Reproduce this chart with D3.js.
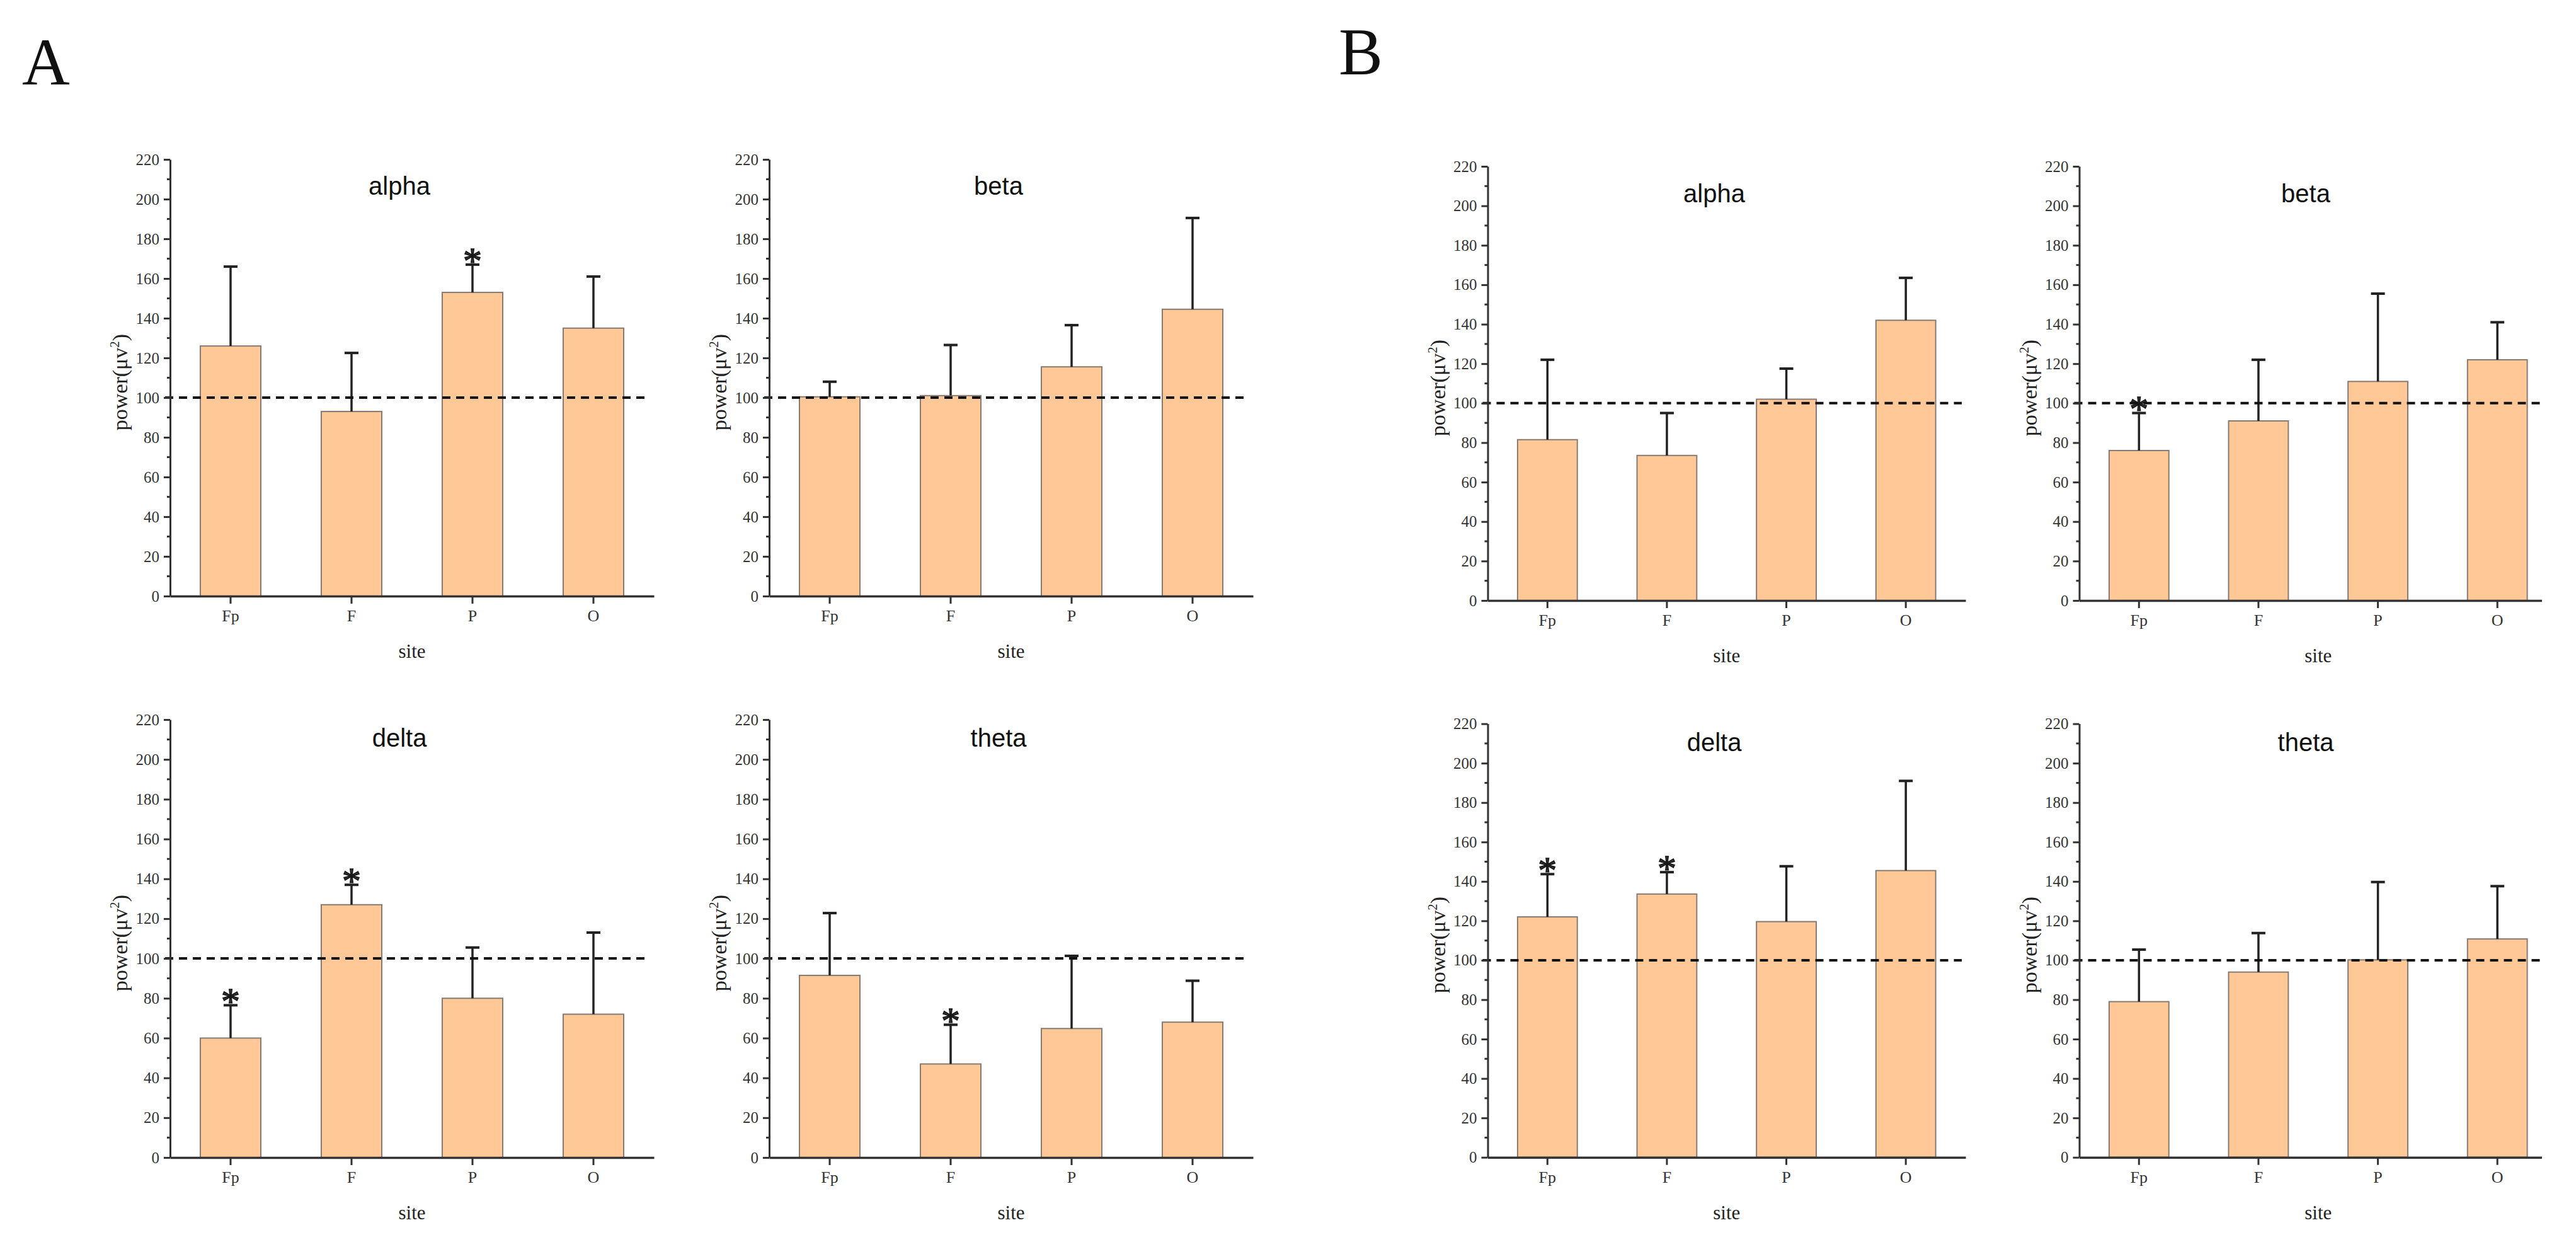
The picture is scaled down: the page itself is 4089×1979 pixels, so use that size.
<!DOCTYPE html>
<html>
<head>
<meta charset="utf-8">
<script src="https://cdn.jsdelivr.net/npm/d3@7"></script>
<style>
  body { margin: 0; background: #fff; }
  svg { display: block; }
</style>
</head>
<body>
<svg width="4089" height="1979"></svg>
<script>
const sites = ["Fp", "F", "P", "O"];
const yTicks = [0, 20, 40, 60, 80, 100, 120, 140, 160, 180, 200, 220];
const yMinorTicks = [10, 30, 50, 70, 90, 110, 130, 150, 170, 190, 210];
const refLevel = 100;

// group A
const aAlphaMean = [126, 93, 153, 135];
const aAlphaSd   = [40, 29.5, 14, 26];
const aAlphaSig  = [0, 0, 1, 0];
const aBetaMean  = [100.4, 101, 115.5, 144.5];
const aBetaSd    = [7.6, 25.5, 21, 46];
const aBetaSig   = [0, 0, 0, 0];
const aDeltaMean = [60, 127, 80, 72];
const aDeltaSd   = [16.5, 10, 25.5, 41];
const aDeltaSig  = [1, 1, 0, 0];
const aThetaMean = [91.5, 47, 64.8, 68];
const aThetaSd   = [31.3, 19.7, 36.5, 20.8];
const aThetaSig  = [0, 1, 0, 0];

// group B
const bAlphaMean = [81.5, 73.5, 102, 142];
const bAlphaSd   = [40.5, 21.5, 15.5, 21.5];
const bAlphaSig  = [0, 0, 0, 0];
const bBetaMean  = [76, 91, 111, 122];
const bBetaSd    = [19, 31, 44.5, 19];
const bBetaSig   = [1, 0, 0, 0];
const bDeltaMean = [122, 133.6, 119.6, 145.5];
const bDeltaSd   = [21.7, 11.1, 28.1, 45.5];
const bDeltaSig  = [1, 1, 0, 0];
const bThetaMean = [79, 94, 100.2, 110.8];
const bThetaSd   = [26.4, 19.8, 39.5, 26.8];
const bThetaSig  = [0, 0, 0, 0];

const charts = [
  {title: "alpha", mean: aAlphaMean, sd: aAlphaSd, sig: aAlphaSig},
  {title: "beta",  mean: aBetaMean,  sd: aBetaSd,  sig: aBetaSig},
  {title: "delta", mean: aDeltaMean, sd: aDeltaSd, sig: aDeltaSig},
  {title: "theta", mean: aThetaMean, sd: aThetaSd, sig: aThetaSig},
  {title: "alpha", mean: bAlphaMean, sd: bAlphaSd, sig: bAlphaSig},
  {title: "beta",  mean: bBetaMean,  sd: bBetaSd,  sig: bBetaSig},
  {title: "delta", mean: bDeltaMean, sd: bDeltaSd, sig: bDeltaSig},
  {title: "theta", mean: bThetaMean, sd: bThetaSd, sig: bThetaSig}
];

// where each panel sits on the page
const frames = [
  {x0: 270,    x1: 1038, top: 253,   bottom: 946,   titleDy: 43},
  {x0: 1221,   x1: 1989, top: 253,   bottom: 946,   titleDy: 43},
  {x0: 270,    x1: 1038, top: 1142,  bottom: 1837,  titleDy: 30},
  {x0: 1221,   x1: 1989, top: 1142,  bottom: 1837,  titleDy: 30},
  {x0: 2361.5, x1: 3120, top: 264,   bottom: 953,   titleDy: 44},
  {x0: 3300.5, x1: 4059, top: 264,   bottom: 953,   titleDy: 44, clip: 4035},
  {x0: 2361.5, x1: 3120, top: 1148.6, bottom: 1836.7, titleDy: 30},
  {x0: 3300.5, x1: 4059, top: 1148.6, bottom: 1836.7, titleDy: 30, clip: 4035}
];

const serif = "'Liberation Serif', 'Times New Roman', serif";
const sans = "'Liberation Sans', Arial, sans-serif";

const svg = d3.select("svg");

svg.append("text").attr("x", 35).attr("y", 134)
  .attr("font-family", serif).attr("font-size", 105).attr("fill", "#111").text("A");
svg.append("text").attr("x", 2125).attr("y", 118)
  .attr("font-family", serif).attr("font-size", 105).attr("fill", "#111").text("B");

svg.append("clipPath").attr("id", "pageClip")
  .append("rect").attr("x", 0).attr("y", 0).attr("width", 4035).attr("height", 1979);

charts.forEach((c, i) => {
  const f = frames[i];
  const g = svg.append("g");
  if (f.clip) g.attr("clip-path", "url(#pageClip)");

  const x = d3.scaleBand().domain(sites).range([f.x0, f.x1])
    .paddingInner(0.5).paddingOuter(0.25);
  const y = d3.scaleLinear().domain([0, 220]).range([f.bottom, f.top]);

  const rows = sites.map((s, k) => ({site: s, mean: c.mean[k], sd: c.sd[k], sig: c.sig[k]}));

  // bars
  g.selectAll("rect.bar").data(rows).join("rect")
    .attr("class", "bar")
    .attr("x", d => x(d.site))
    .attr("width", x.bandwidth())
    .attr("y", d => y(d.mean))
    .attr("height", d => y(0) - y(d.mean))
    .attr("fill", "#ffc896")
    .attr("stroke", "#857b73")
    .attr("stroke-width", 2);

  // error bars (upper only)
  const cx = d => x(d.site) + x.bandwidth() / 2;
  g.selectAll("line.err").data(rows).join("line")
    .attr("class", "err")
    .attr("x1", cx).attr("x2", cx)
    .attr("y1", d => y(d.mean)).attr("y2", d => y(d.mean + d.sd))
    .attr("stroke", "#222").attr("stroke-width", 3.5);
  g.selectAll("line.cap").data(rows).join("line")
    .attr("class", "cap")
    .attr("x1", d => cx(d) - 11).attr("x2", d => cx(d) + 11)
    .attr("y1", d => y(d.mean + d.sd)).attr("y2", d => y(d.mean + d.sd))
    .attr("stroke", "#222").attr("stroke-width", 4);

  // significance marks
  g.selectAll("text.sig").data(rows.filter(d => d.sig)).join("text")
    .attr("class", "sig")
    .attr("x", cx)
    .attr("y", d => y(d.mean + d.sd) + 14)
    .attr("text-anchor", "middle")
    .attr("font-family", serif)
    .attr("font-size", 60)
    .attr("fill", "#333")
    .attr("stroke", "#111")
    .attr("stroke-width", 1.5)
    .text("*");

  // reference line
  g.append("line")
    .attr("x1", f.x0 - 8).attr("x2", f.x1 - 6)
    .attr("y1", y(refLevel)).attr("y2", y(refLevel))
    .attr("stroke", "#111").attr("stroke-width", 4)
    .attr("stroke-dasharray", "13,9");

  // y axis
  const yAxis = g.append("g").attr("transform", `translate(${f.x0},0)`)
    .call(d3.axisLeft(y).tickValues(yTicks).tickSize(10).tickSizeOuter(0).tickPadding(7));
  yAxis.select(".domain").attr("stroke", "#333").attr("stroke-width", 3);
  yAxis.selectAll(".tick line").attr("stroke", "#333").attr("stroke-width", 3);
  yAxis.selectAll(".tick text").attr("font-family", serif).attr("font-size", 25).attr("fill", "#333");
  g.append("g").attr("transform", `translate(${f.x0},0)`)
    .selectAll("line").data(yMinorTicks).join("line")
    .attr("x1", -5).attr("x2", 0)
    .attr("y1", d => y(d)).attr("y2", d => y(d))
    .attr("stroke", "#333").attr("stroke-width", 3);

  // x axis
  const xAxis = g.append("g").attr("transform", `translate(0,${f.bottom})`)
    .call(d3.axisBottom(x).tickSize(12).tickSizeOuter(0).tickPadding(10));
  xAxis.select(".domain").attr("stroke", "#333").attr("stroke-width", 3.5);
  xAxis.selectAll(".tick line").attr("stroke", "#333").attr("stroke-width", 3);
  xAxis.selectAll(".tick text").attr("font-family", serif).attr("font-size", 26).attr("fill", "#333");

  // titles
  const w = f.x1 - f.x0;
  g.append("text")
    .attr("x", f.x0 + w * 0.474).attr("y", f.top + f.titleDy + 13)
    .attr("text-anchor", "middle")
    .attr("font-family", sans).attr("font-size", 40).attr("fill", "#111")
    .text(c.title);

  g.append("text")
    .attr("x", f.x0 + w / 2).attr("y", f.bottom + 98)
    .attr("text-anchor", "middle")
    .attr("font-family", serif).attr("font-size", 31).attr("fill", "#222")
    .text("site");

  const yl = g.append("text")
    .attr("transform", `translate(${f.x0 - 68},${(f.top + f.bottom) / 2 + 7}) rotate(-90)`)
    .attr("text-anchor", "middle")
    .attr("font-family", serif).attr("font-size", 34).attr("fill", "#222");
  yl.append("tspan").text("power(μv");
  yl.append("tspan").attr("dy", -13).attr("font-size", 21).text("2");
  yl.append("tspan").attr("dy", 13).text(")");
});
</script>
</body>
</html>
